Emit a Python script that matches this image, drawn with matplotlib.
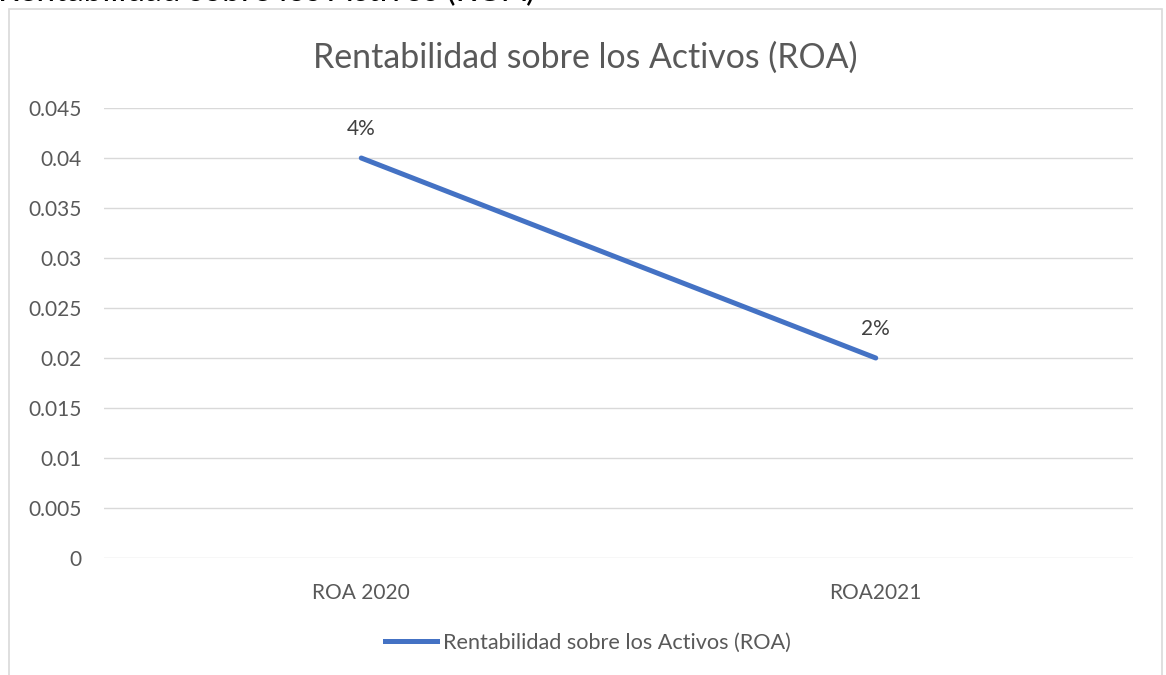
import matplotlib
matplotlib.use("Agg")
import matplotlib.pyplot as plt
from matplotlib.patches import Rectangle
from matplotlib.lines import Line2D

categories = ["ROA 2020", "ROA2021"]
values = [0.04, 0.02]
labels = ["4%", "2%"]
yticks = [0, 0.005, 0.01, 0.015, 0.02, 0.025, 0.03, 0.035, 0.04, 0.045]
ytick_labels = ["0", "0.005", "0.01", "0.015", "0.02", "0.025", "0.03", "0.035", "0.04", "0.045"]
title = "Rentabilidad sobre los Activos (ROA)"
series_name = "Rentabilidad sobre los Activos (ROA)"

plt.rcParams['font.family'] = ['Lato', 'DejaVu Sans']
W, H = 1166, 675
fig = plt.figure(figsize=(W / 100, H / 100), dpi=100)
fig.patch.set_facecolor("white")

# cropped heading above the chart frame
fig.text(535 / W, 1 - 1.5 / H, title, ha="right", va="baseline",
         fontsize=24, color="black")

# chart frame
fig.patches.append(Rectangle((9 / W, -0.05), (1162 - 9) / W, 1.05 - 9 / H,
                             transform=fig.transFigure, fill=False,
                             edgecolor="#d9d9d9", linewidth=1.2))

ax = fig.add_axes([104 / W, 1 - 558 / H, (1133 - 104) / W, (558 - 108) / H])
x = list(range(len(categories)))
ax.plot(x, values, color="#4472C4", linewidth=3.6, solid_capstyle="round", zorder=3)
for xi, v, lab in zip(x, values, labels):
    ax.annotate(lab, (xi, v), xytext=(0, 21), textcoords="offset points",
                ha="center", va="center", fontsize=15, color="#404040")

ax.set_xlim(-0.5, len(categories) - 0.5)
ax.set_ylim(0, 0.045)
ax.set_yticks(yticks)
ax.set_yticklabels(ytick_labels)
ax.set_xticks(x)
ax.set_xticklabels(categories)
ax.tick_params(axis="both", length=0, labelsize=15, labelcolor="#595959")
ax.tick_params(axis="y", pad=16)
ax.tick_params(axis="x", pad=18)
ax.grid(axis="y", color="#d9d9d9", linewidth=1.0)
ax.set_axisbelow(True)
for s in ax.spines.values():
    s.set_visible(False)

fig.text(585 / W, 1 - 58 / H, title, ha="center", va="center",
         fontsize=24.4, color="#595959")

handle = Line2D([], [], color="#4472C4", linewidth=3.6)
fig.legend([handle], [series_name], loc="center", bbox_to_anchor=(588 / W, 1 - 643 / H),
           frameon=False, fontsize=15.6, labelcolor="#595959", handlelength=2.4,
           handletextpad=0.3)

fig.savefig("out.png", dpi=100, facecolor="white")
